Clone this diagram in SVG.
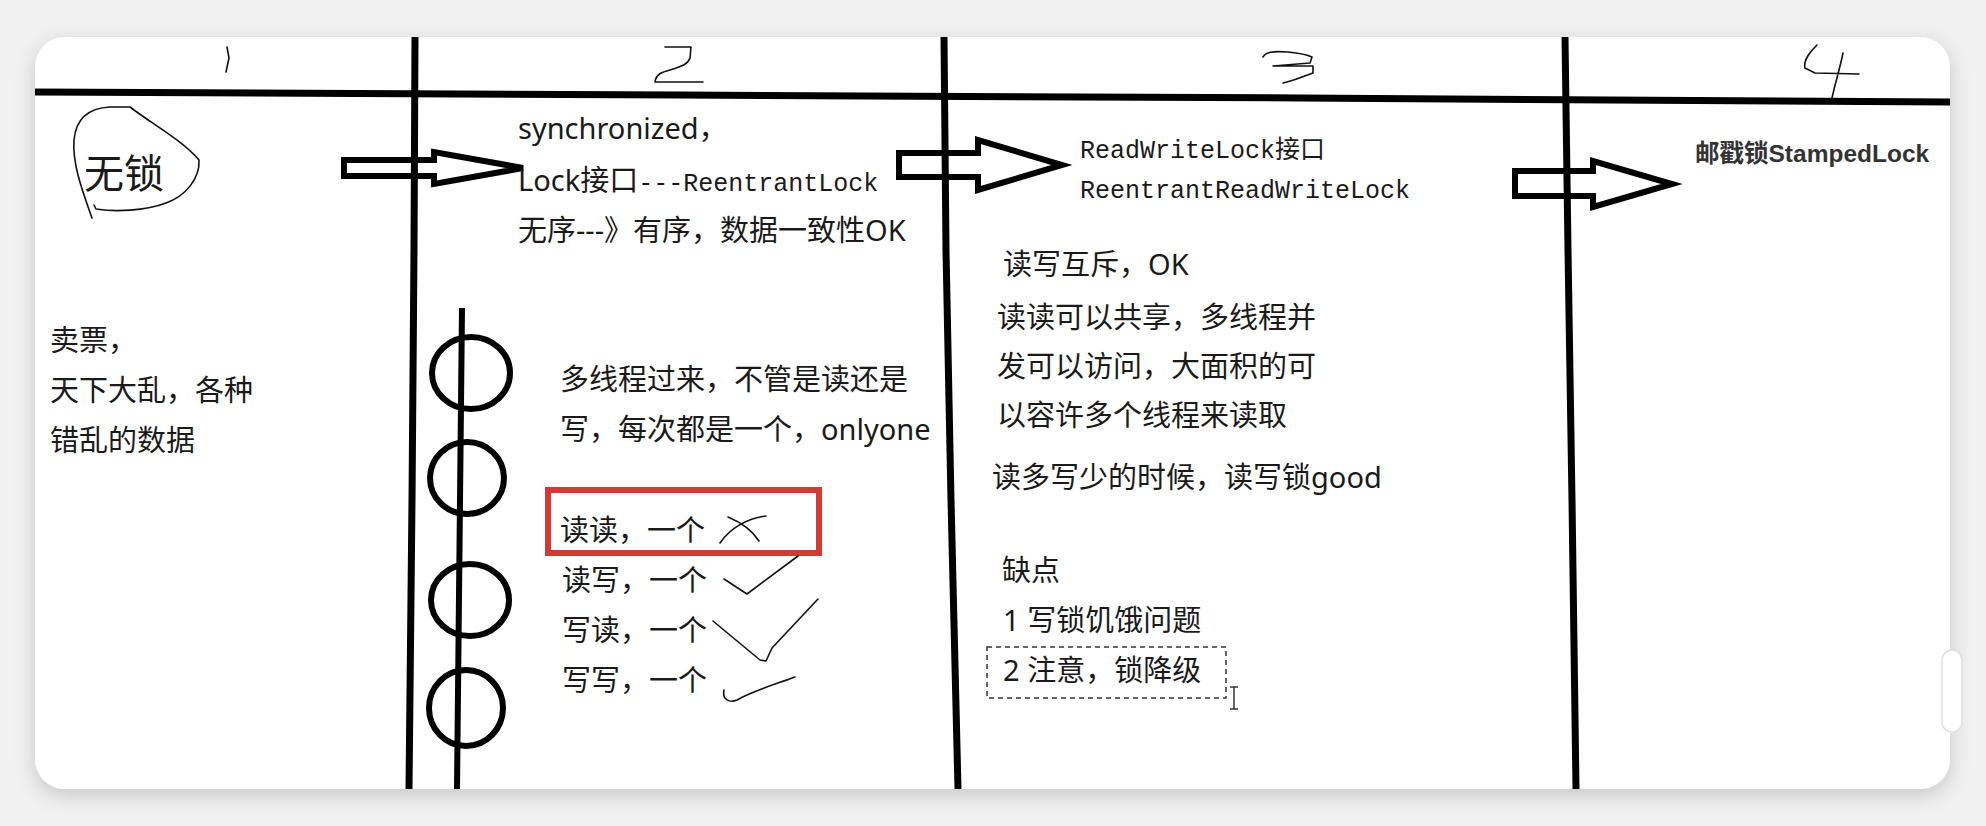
<svg xmlns="http://www.w3.org/2000/svg" width="1986" height="826" viewBox="0 0 1986 826">
<defs>
<filter id="shadow" x="-5%" y="-10%" width="110%" height="125%">
<feDropShadow dx="0" dy="6" stdDeviation="10" flood-color="#000" flood-opacity="0.18"/>
</filter>
<style>
.thick{fill:none;stroke:#000;stroke-width:7;stroke-linecap:butt;stroke-linejoin:miter}
.ring{fill:none;stroke:#000;stroke-width:6}
.arrow{fill:none;stroke:#000;stroke-width:6;stroke-linejoin:miter}
.hand{fill:none;stroke:#111;stroke-width:1.6;stroke-linecap:round;stroke-linejoin:round}
.t{font-family:"Noto Sans","Noto Sans CJK SC",sans-serif;font-size:29px;fill:#1a1a1a}
.m{font-family:"Liberation Mono","Noto Sans CJK SC",monospace;font-size:25px;fill:#1a1a1a}
.b{font-family:"Liberation Sans","Noto Sans CJK SC",sans-serif;font-size:24.5px;font-weight:bold;fill:#333}
</style>
</defs>
<rect x="0" y="0" width="1986" height="826" fill="#f1f1f1"/>
<rect id="card" x="35" y="37" width="1915" height="752" rx="30" ry="30" fill="#fff" filter="url(#shadow)"/>
<rect x="1942" y="650" width="20" height="82" rx="10" fill="#fff" stroke="#e0e0e0" stroke-width="1.5"/>

<g id="grid">
<polyline class="thick" points="35,92 680,95 1300,98 1950,102"/>
<polyline class="thick" points="415,37 414,250 412,500 409,789"/>
<polyline class="thick" points="944,37 946,250 951,500 958,789"/>
<polyline class="thick" points="1565,37 1568,250 1572,500 1576,789"/>
</g>

<g id="numerals">
<path class="hand" d="M227,47 L229,58 L226,72"/>
<path class="hand" d="M665,47 L691,47 L690,58 C688,64 683,66 670,70 C662,72 656,74 655,82 L703,82"/>
<path class="hand" d="M1263,57 C1266,52 1272,51 1288,52 C1298,53 1308,55 1312,57 L1310,63 L1273,66 L1313,66 L1313,73 L1302,77 C1295,80 1290,81 1283,83"/>
<path class="hand" d="M1817,45 C1810,52 1803,60 1805,68 L1815,73 L1859,74 M1843,53 C1840,68 1835,84 1832,98"/>
</g>

<g id="connectors">
<polygon class="arrow" points="344,160 434,160 434,152 523,168 434,184 434,176 344,176"/>
<polygon class="arrow" points="899,153 978,153 978,140 1062,165 978,190 978,177 899,177"/>
<polygon class="arrow" points="1515,171 1593,171 1593,161 1672,184 1593,207 1593,196 1515,196"/>
</g>

<g id="col1">
<path class="hand" d="M92,218 C84,195 72,165 74,140 C76,118 90,108 110,107 L130,107 C152,124 182,140 199,160 C200,178 186,196 166,203 C145,211 115,212 96,209 L94,205"/>
<text class="t" x="84" y="188" style="font-size:40px">无锁</text>
<text class="t" x="50" y="351">卖票，</text>
<text class="t" x="50" y="401">天下大乱，各种</text>
<text class="t" x="50" y="451">错乱的数据</text>
</g>

<g id="col2">
<text class="t" x="518" y="139">synchronized，</text>
<text class="t" x="518" y="191">Lock接口<tspan class="m">---ReentrantLock</tspan></text>
<text class="t" x="518" y="241">无序---》有序，数据一致性OK</text>
<line x1="462" y1="308" x2="457" y2="789" stroke="#000" stroke-width="6"/>
<ellipse class="ring" cx="471" cy="373" rx="39" ry="36"/>
<ellipse class="ring" cx="467" cy="478" rx="37" ry="36"/>
<ellipse class="ring" cx="470" cy="600" rx="39" ry="36"/>
<ellipse class="ring" cx="466" cy="708" rx="37" ry="38"/>
<text class="t" x="560" y="390">多线程过来，不管是读还是</text>
<text class="t" x="560" y="440">写，每次都是一个，onlyone</text>
<rect x="548" y="490" width="271" height="63" fill="none" stroke="#d23b33" stroke-width="6"/>
<text class="t" x="560" y="541">读读，一个</text>
<path class="hand" d="M720,543 C730,528 748,518 766,516 M728,517 C740,522 752,530 759,541"/>
<text class="t" x="562" y="591">读写，一个</text>
<path class="hand" d="M724,579 L747,594 L798,556"/>
<text class="t" x="562" y="641">写读，一个</text>
<path class="hand" d="M713,621 L760,660 L766,661 L772,648 L818,599"/>
<text class="t" x="562" y="691">写写，一个</text>
<path class="hand" d="M724,690 C722,700 730,703 737,700 C750,692 770,686 795,677"/>
</g>

<g id="col3">
<text class="m" x="1080" y="158">ReadWriteLock接口</text>
<text class="m" x="1080" y="198">ReentrantReadWriteLock</text>
<text class="t" x="1003" y="275">读写互斥，OK</text>
<text class="t" x="997" y="328">读读可以共享，多线程并</text>
<text class="t" x="997" y="377">发可以访问，大面积的可</text>
<text class="t" x="997" y="426">以容许多个线程来读取</text>
<text class="t" x="992" y="488">读多写少的时候，读写锁good</text>
<text class="t" x="1002" y="581">缺点</text>
<text class="t" x="1003" y="631">1 写锁饥饿问题</text>
<rect x="987" y="647" width="239" height="51" fill="none" stroke="#333" stroke-width="1.5" stroke-dasharray="5,4"/>
<text class="t" x="1003" y="681">2 注意，锁降级</text>
<path d="M1230,687 L1238,687 M1234,687 L1234,709 M1230,709 L1238,709" fill="none" stroke="#333" stroke-width="1.5"/>
</g>

<g id="col4">
<text class="b" x="1695" y="162">邮戳锁StampedLock</text>
</g>
</svg>
